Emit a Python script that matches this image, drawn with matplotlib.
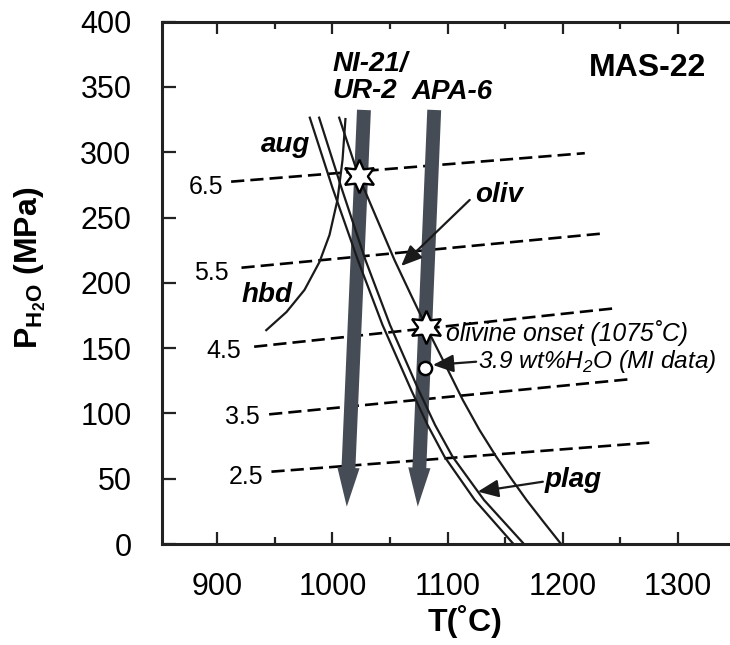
import matplotlib
matplotlib.use("Agg")
import matplotlib.pyplot as plt
from matplotlib.patches import FancyArrowPatch

plt.rcParams['font.family'] = ['Liberation Sans', 'DejaVu Sans']

# ---- data (T in degC, P in MPa) ----
iso_labels = ["6.5", "5.5", "4.5", "3.5", "2.5"]
iso_T = [[912, 1219], [921, 1237], [932, 1245], [945, 1258], [947, 1275]]
iso_P = [[277.5, 299.3], [211.6, 238.0], [151.1, 180.5], [99.3, 126.2], [55.4, 77.6]]
iso_label_T = [890, 895, 906, 922, 925]
iso_label_P = [273.7, 207.8, 148.1, 97.5, 51.6]

oliv_T = [1005.5, 1022.6, 1038.2, 1053.8, 1067.7, 1081.3, 1097.2, 1113.1,
          1127.6, 1142.1, 1155.4, 1168.4, 1183.2, 1198.4]
oliv_P = [327.3, 281.9, 249.7, 217.5, 191.5, 166.4, 138.6, 110.3,
          87.3, 66.9, 49.8, 33.7, 16.9, 0.0]

aug_T = [980.0, 1000.0, 1022.0, 1043.4, 1068.3, 1082.5, 1097.2, 1123.5, 1157.1]
aug_P = [327.3, 272.7, 217.5, 167.8, 118.0, 91.2, 66.9, 33.7, 0.0]
plag_T = [988.1, 1007.8, 1028.6, 1049.9, 1074.7, 1089.0, 1104.2, 1131.5, 1166.2]
plag_P = [327.3, 272.7, 217.5, 167.8, 118.0, 91.2, 66.9, 33.7, 0.0]

hbd_T = [1011.3, 1008.7, 1004.3, 997.4, 988.7, 975.7, 960.1, 941.8]
hbd_P = [326.3, 294.1, 263.5, 236.7, 216.0, 194.6, 177.7, 163.2]

path_names = ["NI-21/\nUR-2", "APA-6"]
path_T_top = [1027.3, 1088.3]
path_T_bottom = [1012.4, 1074.0]
path_P_top = [332.4, 332.4]
path_P_bottom = [28.6, 28.6]

star_T = [1022.6, 1081.3]
star_P = [281.9, 166.4]
mi_T = [1080.0]
mi_P = [134.6]

x_ticks = [900, 1000, 1100, 1200, 1300]
x_minor = [950, 1050, 1150, 1250]
y_ticks = [0, 50, 100, 150, 200, 250, 300, 350, 400]

# ---- figure ----
W, H = 730, 645
fig = plt.figure(figsize=(W / 100, H / 100), dpi=100)
ax = fig.add_axes([162 / W, 1 - 544 / H, 573.7 / W, (544 - 21.7) / H])
ax.set_xlim(852, 1350)
ax.set_ylim(0, 400)

for sp in ['left', 'bottom', 'top']:
    ax.spines[sp].set_linewidth(2.2)
    ax.spines[sp].set_color('#222222')
ax.spines['right'].set_visible(False)

ax.set_xticks(x_ticks)
ax.set_xticks(x_minor, minor=True)
ax.set_yticks(y_ticks)
ax.tick_params(axis='x', which='major', direction='in', length=8.6, width=1.6,
               top=True, labelsize=22, pad=20, color='#222222')
ax.tick_params(axis='x', which='minor', direction='in', length=5, width=1.6,
               top=True, color='#222222')
ax.tick_params(axis='y', which='major', direction='in', length=10, width=1.6,
               right=False, labelsize=22, pad=22, color='#222222')

# isopleths
for lab, tt, pp, lt, lp in zip(iso_labels, iso_T, iso_P, iso_label_T, iso_label_P):
    ax.plot(tt, pp, color='black', lw=1.9, dashes=(5, 2.3))
    ax.text(lt, lp, lab, fontsize=18, ha='center', va='center')

# crystallization paths (thick arrows)
arrow_color = '#454c55'
for name, t0, t1, p0, p1 in zip(path_names, path_T_top, path_T_bottom, path_P_top, path_P_bottom):
    arr = FancyArrowPatch((t0, p0), (t1, p1),
                          arrowstyle='simple,head_length=2.8,head_width=1.6,tail_width=1.0',
                          mutation_scale=10, color=arrow_color, lw=0,
                          shrinkA=0, shrinkB=0, zorder=2)
    ax.add_patch(arr)

# phase boundaries
for tt, pp in [(oliv_T, oliv_P), (aug_T, aug_P), (plag_T, plag_P), (hbd_T, hbd_P)]:
    ax.plot(tt, pp, color='#1a1a1a', lw=1.6, zorder=3, solid_capstyle='butt',
            solid_joinstyle='round')

# markers
ax.plot(star_T, star_P, linestyle='none', marker=(6, 1, 0), markersize=24,
        markerfacecolor='white', markeredgecolor='black', markeredgewidth=1.7, zorder=5)
ax.plot(mi_T, mi_P, linestyle='none', marker='o', markersize=9.5,
        markerfacecolor='white', markeredgecolor='black', markeredgewidth=1.8, zorder=5)

# labels
bi = dict(fontweight='bold', fontstyle='italic', fontsize=20)
ax.text(1000, 357, path_names[0], ha='left', va='center', linespacing=1.05, **bi)
ax.text(1069, 346.2, path_names[1], ha='left', va='center', **bi)
ax.text(959, 305.6, "aug", ha='center', va='center', **bi)
ax.text(943.6, 190.7, "hbd", ha='center', va='center', **bi)
ax.text(1144.5, 267.3, "oliv", ha='center', va='center', **bi)
ax.text(1208.8, 49.0, "plag", ha='center', va='center', **bi)
ax.text(1273.4, 364.6, "MAS-22", ha='center', va='center', fontsize=23, fontweight='bold')

ax.text(1098.7, 161.4, "olivine onset (1075˚C)", ha='left', va='center',
        fontsize=17.8, fontstyle='italic')
ax.text(1125.9, 139.6, r"3.9 wt%H$_{\mathregular{2}}$O (MI data)", ha='left', va='center',
        fontsize=17.6, fontstyle='italic')

ann = dict(arrowstyle='-|>,head_length=0.7,head_width=0.3', color='#1a1a1a', lw=1.6,
           shrinkA=0, shrinkB=0, mutation_scale=18)
ax.annotate("", xy=(1059.6, 212.9), xytext=(1119.1, 263.5), arrowprops=ann, zorder=6)
ax.annotate("", xy=(1087.1, 137.1), xytext=(1124.7, 139.6), arrowprops=ann, zorder=6)
ax.annotate("", xy=(1126.1, 40.1), xytext=(1182.6, 47.7), arrowprops=ann, zorder=6)

fig.text(465 / W, 1 - 622 / H, "T(˚C)", ha='center', va='center', fontsize=23, fontweight='bold')
fig.text(30 / W, 1 - 268 / H, r"P$_{\mathregular{H_2O}}$ (MPa)", ha='center', va='center',
         fontsize=23, fontweight='bold', rotation=90)

fig.savefig("out.png", dpi=100)
